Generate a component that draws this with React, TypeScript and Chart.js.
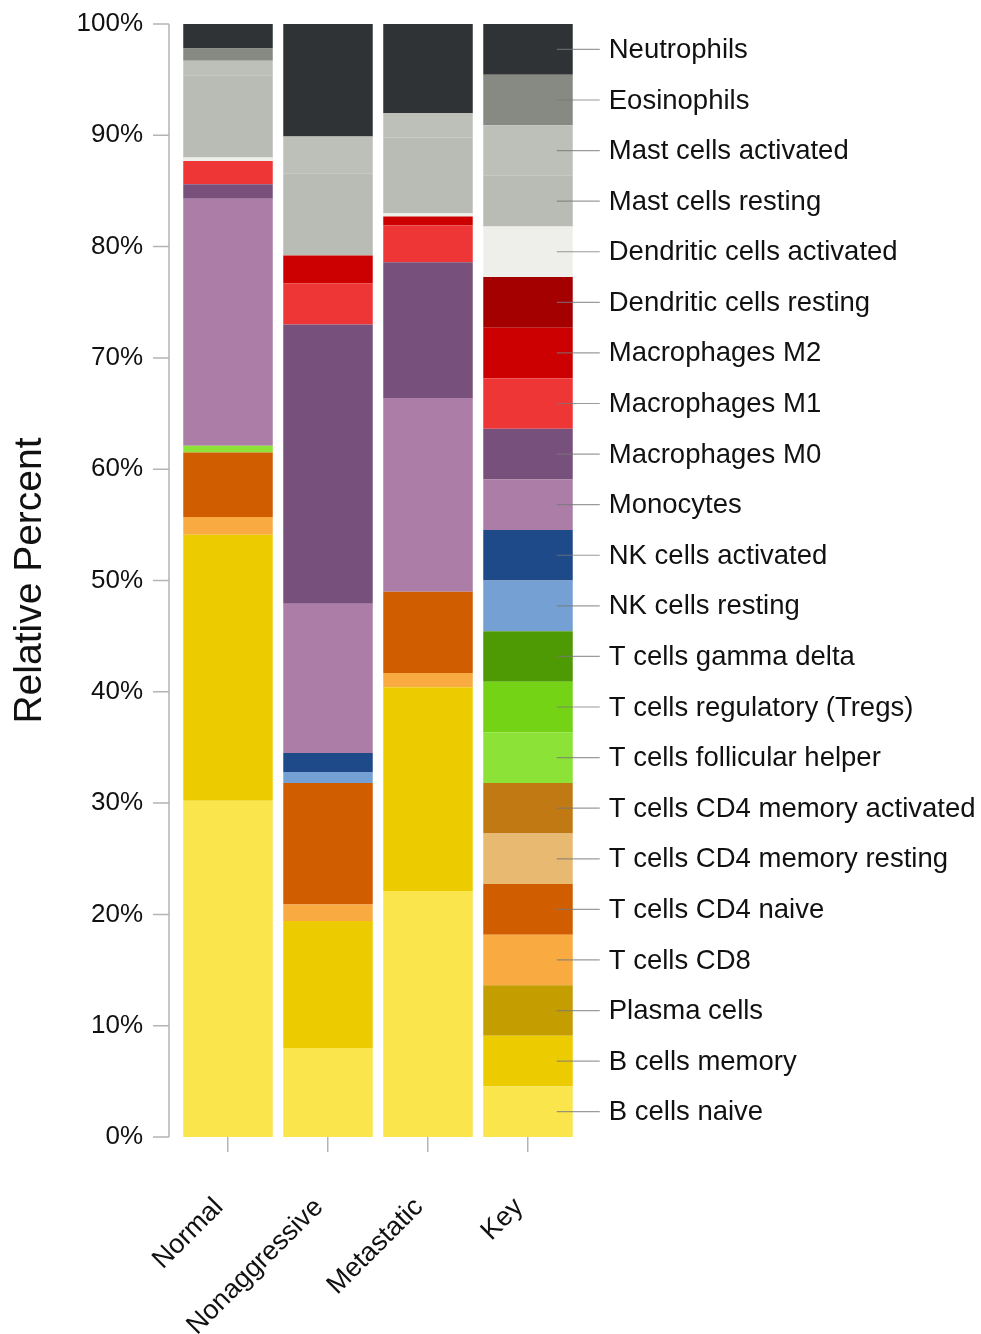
import React, { useEffect, useRef } from "react";
import { Chart, registerables } from "chart.js";

Chart.register(...registerables);

// Sample groups along the x axis
const categories = ["Normal", "Nonaggressive", "Metastatic", "Key"];

// Cell types, stacked from the bottom of each bar upwards
const cellTypes = [
  "B cells naive",
  "B cells memory",
  "Plasma cells",
  "T cells CD8",
  "T cells CD4 naive",
  "T cells CD4 memory resting",
  "T cells CD4 memory activated",
  "T cells follicular helper",
  "T cells regulatory (Tregs)",
  "T cells gamma delta",
  "NK cells resting",
  "NK cells activated",
  "Monocytes",
  "Macrophages M0",
  "Macrophages M1",
  "Macrophages M2",
  "Dendritic cells resting",
  "Dendritic cells activated",
  "Mast cells resting",
  "Mast cells activated",
  "Eosinophils",
  "Neutrophils",
];

const cellColors = [
  "#fbe54d",
  "#eccc00",
  "#c49d00",
  "#f9ab41",
  "#d05e00",
  "#e8b970",
  "#c17a13",
  "#8ce236",
  "#74d315",
  "#4e9a04",
  "#74a0d3",
  "#1f4a8a",
  "#ac7da6",
  "#77507c",
  "#ee3636",
  "#cc0000",
  "#a40000",
  "#eeeeea",
  "#b8bcb4",
  "#bcc0b8",
  "#868a82",
  "#2f3335",
];

// Relative percent per cell type (same order as cellTypes)
const normalValues = [
  30.2, 23.9, 0, 1.6, 5.8, 0, 0, 0.6, 0, 0, 0, 0,
  22.2, 1.3, 2.1, 0, 0, 0.3, 7.4, 1.3, 1.1, 2.2,
];
const nonaggressiveValues = [
  8.0, 11.4, 0, 1.5, 10.9, 0, 0, 0, 0, 0, 1.0, 1.7,
  13.4, 25.1, 3.7, 2.5, 0, 0, 7.4, 3.3, 0, 10.1,
];
const metastaticValues = [
  22.1, 18.3, 0, 1.3, 7.3, 0, 0, 0, 0, 0, 0, 0,
  17.4, 12.2, 3.3, 0.8, 0, 0.3, 6.8, 2.2, 0, 8.0,
];
const keyValues = [
  4.545, 4.545, 4.545, 4.545, 4.545, 4.545, 4.545, 4.545, 4.545, 4.545, 4.545,
  4.545, 4.545, 4.545, 4.545, 4.545, 4.545, 4.545, 4.545, 4.545, 4.545, 4.545,
];

const yTickValues = [0, 10, 20, 30, 40, 50, 60, 70, 80, 90, 100];

const FONT = "'Liberation Sans', Arial, sans-serif";
const AXIS_GREY = "#b4b4b4";

// Draws the y axis line (offset left of the bars) with its tick marks
const yAxisLinePlugin = {
  id: "yAxisLine",
  afterDraw(chart: any) {
    const { ctx, chartArea, scales } = chart;
    const y = scales.y;
    const x = chartArea.left - 9;
    ctx.save();
    ctx.strokeStyle = AXIS_GREY;
    ctx.lineWidth = 1.5;
    ctx.beginPath();
    ctx.moveTo(x, y.getPixelForValue(100));
    ctx.lineTo(x, y.getPixelForValue(0));
    yTickValues.forEach((v) => {
      const py = y.getPixelForValue(v);
      ctx.moveTo(x - 16, py);
      ctx.lineTo(x, py);
    });
    ctx.stroke();
    ctx.restore();
  },
};

// Rotated category names under the bars
const xLabelsPlugin = {
  id: "xLabels",
  afterDraw(chart: any) {
    const { ctx, chartArea, scales } = chart;
    ctx.save();
    ctx.font = `27px ${FONT}`;
    ctx.fillStyle = "#111";
    ctx.textAlign = "right";
    ctx.textBaseline = "middle";
    categories.forEach((name, i) => {
      const x = scales.x.getPixelForValue(i);
      ctx.save();
      ctx.translate(x - 9, chartArea.bottom + 66);
      ctx.rotate(-Math.PI / 4);
      ctx.fillText(name, 0, 0);
      ctx.restore();
    });
    ctx.restore();
  },
};

// Labels every cell type beside its segment of the Key bar
const keyLabelsPlugin = {
  id: "keyLabels",
  afterDatasetsDraw(chart: any) {
    const { ctx } = chart;
    const keyIndex = categories.indexOf("Key");
    ctx.save();
    ctx.font = `27.5px ${FONT}`;
    ctx.fillStyle = "#111";
    ctx.textBaseline = "middle";
    ctx.textAlign = "left";
    chart.data.datasets.forEach((ds: any, i: number) => {
      const bar = chart.getDatasetMeta(i).data[keyIndex];
      if (!bar) return;
      const cy = (bar.y + bar.base) / 2;
      const half = bar.width / 2;
      ctx.strokeStyle = "rgba(120,120,120,0.75)";
      ctx.lineWidth = 1.2;
      ctx.beginPath();
      ctx.moveTo(bar.x + half - 16, cy);
      ctx.lineTo(bar.x + half + 27, cy);
      ctx.stroke();
      ctx.fillText(ds.label, bar.x + half + 36, cy + 1);
    });
    ctx.restore();
  },
};

export default function App() {
  const canvasRef = useRef<HTMLCanvasElement | null>(null);

  useEffect(() => {
    if (!canvasRef.current) return;
    const datasets = cellTypes.map((name, i) => ({
      label: name,
      data: [normalValues[i], nonaggressiveValues[i], metastaticValues[i], keyValues[i]],
      backgroundColor: cellColors[i],
      borderWidth: 0,
      categoryPercentage: 1,
      barPercentage: 0.895,
    }));

    const chart = new Chart(canvasRef.current, {
      type: "bar",
      data: { labels: categories, datasets },
      options: {
        responsive: false,
        animation: false,
        layout: { padding: { left: 0, top: 24, right: 403, bottom: 0 } },
        plugins: {
          legend: { display: false },
          tooltip: { enabled: false },
        },
        scales: {
          x: {
            stacked: true,
            offset: true,
            border: { display: false },
            grid: {
              display: true,
              drawOnChartArea: false,
              offset: false,
              tickLength: 15,
              color: AXIS_GREY,
              lineWidth: 1.5,
            },
            ticks: { display: false },
            afterFit(scale: any) {
              scale.height = 197;
              scale.paddingLeft = 0;
              scale.paddingRight = 0;
            },
          },
          y: {
            stacked: true,
            min: 0,
            max: 100,
            border: { display: false },
            grid: { display: false },
            ticks: {
              stepSize: 10,
              color: "#111",
              font: { family: FONT, size: 26 },
              padding: 27,
              callback: (v: any) => `${v}%`,
            },
            title: {
              display: true,
              text: "Relative Percent",
              color: "#111",
              font: { family: FONT, size: 39 },
              padding: { top: 7, bottom: 0 },
            },
            afterFit(scale: any) {
              scale.width = 178;
              scale.paddingTop = 0;
              scale.paddingBottom = 0;
            },
          },
        },
      },
      plugins: [yAxisLinePlugin, xLabelsPlugin, keyLabelsPlugin],
    });

    return () => chart.destroy();
  }, []);

  return (
    <div style={{ position: "absolute", left: 0, top: 0, width: 981, height: 1334, background: "#fff" }}>
      <canvas ref={canvasRef} width={981} height={1334} style={{ display: "block" }} />
    </div>
  );
}
